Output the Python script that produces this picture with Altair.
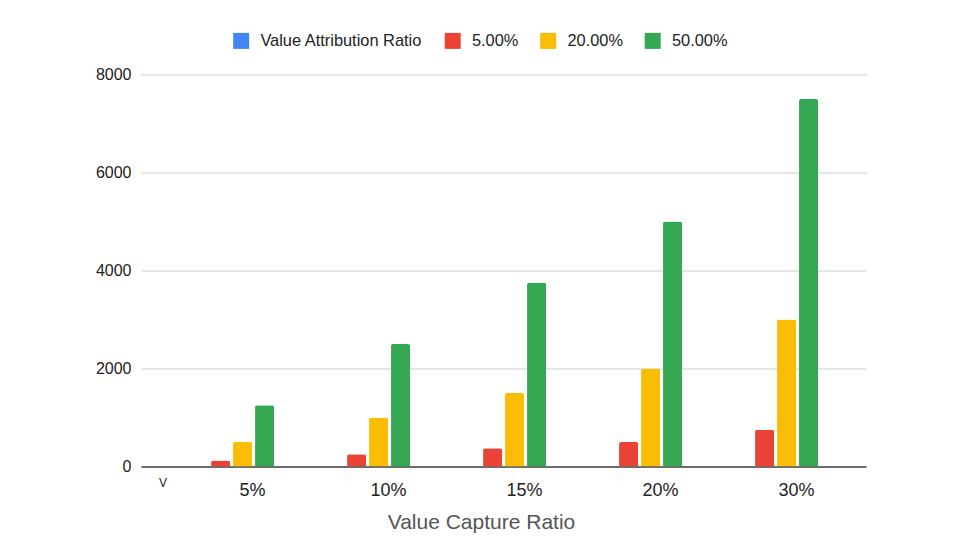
import altair as alt
import pandas as pd

categories = ["5%", "10%", "15%", "20%", "30%"]
series = ["5.00%", "20.00%", "50.00%"]
legend_series = ["Value Attribution Ratio", "5.00%", "20.00%", "50.00%"]
colors = ["#4285F4", "#EA4335", "#FBBC04", "#34A853"]
v5 = [125, 250, 375, 500, 750]
v20 = [500, 1000, 1500, 2000, 3000]
v50 = [1250, 2500, 3750, 5000, 7500]
y_ticks = [0, 2000, 4000, 6000, 8000]
stray_label = ["V"]

rows = []
for s, vals in zip(series, [v5, v20, v50]):
    for c, v in zip(categories, vals):
        rows.append({"cat": c, "series": s, "value": v})
df = pd.DataFrame(rows)

FONT = "Liberation Sans, Arial, sans-serif"

bars = alt.Chart(df).mark_bar(cornerRadiusTopLeft=2, cornerRadiusTopRight=2).encode(
    x=alt.X(
        "cat:N",
        sort=categories,
        scale=alt.Scale(paddingInner=0.515, paddingOuter=0.423, align=0.596),
        axis=alt.Axis(
            title="Value Capture Ratio",
            labelAngle=0,
            labelFontSize=18,
            labelColor="#222222",
            labelPadding=15,
            labelOffset=10,
            ticks=False,
            domainColor="#444444",
            domainWidth=1.3,
            titleFontSize=21,
            titleFontWeight="normal",
            titleColor="#555555",
            titleX=340,
            titleY=61.5,
            titleBaseline="alphabetic",
            grid=False,
        ),
    ),
    xOffset=alt.XOffset(
        "series:N",
        sort=series,
        scale=alt.Scale(domain=series, paddingInner=0.136, paddingOuter=0.068),
    ),
    y=alt.Y(
        "value:Q",
        scale=alt.Scale(domain=[0, 8000], nice=False),
        axis=alt.Axis(
            title=None,
            values=y_ticks,
            format="d",
            labelFontSize=16,
            labelColor="#222222",
            labelPadding=10,
            ticks=False,
            domain=False,
            gridColor="#cccccc",
            gridWidth=1,
        ),
    ),
    color=alt.Color(
        "series:N",
        scale=alt.Scale(domain=legend_series, range=colors),
        legend=alt.Legend(
            title=None,
            orient="none",
            direction="horizontal",
            legendX=92,
            legendY=-42,
            symbolType="square",
            symbolSize=256,
            symbolStrokeWidth=0,
            labelFontSize=16.4,
            labelLimit=400,
            labelColor="#222222",
            labelOffset=11,
            columnPadding=21.5,
            padding=0,
        ),
    ),
)

vtext = alt.Chart(pd.DataFrame({"t": stray_label})).mark_text(
    fontSize=12, color="#222222", align="center", baseline="alphabetic"
).encode(text="t:N", x=alt.value(22), y=alt.value(412))

chart = alt.layer(bars, vtext).properties(
    width=725,
    height=392,
    autosize=alt.AutoSizeParams(type="none"),
    padding={"left": 133, "top": 66.5, "right": 80, "bottom": 70},
    background="white",
).configure(font=FONT).configure_view(stroke=None)

chart.save("out.html", embed_options={"renderer": "svg", "actions": False})
